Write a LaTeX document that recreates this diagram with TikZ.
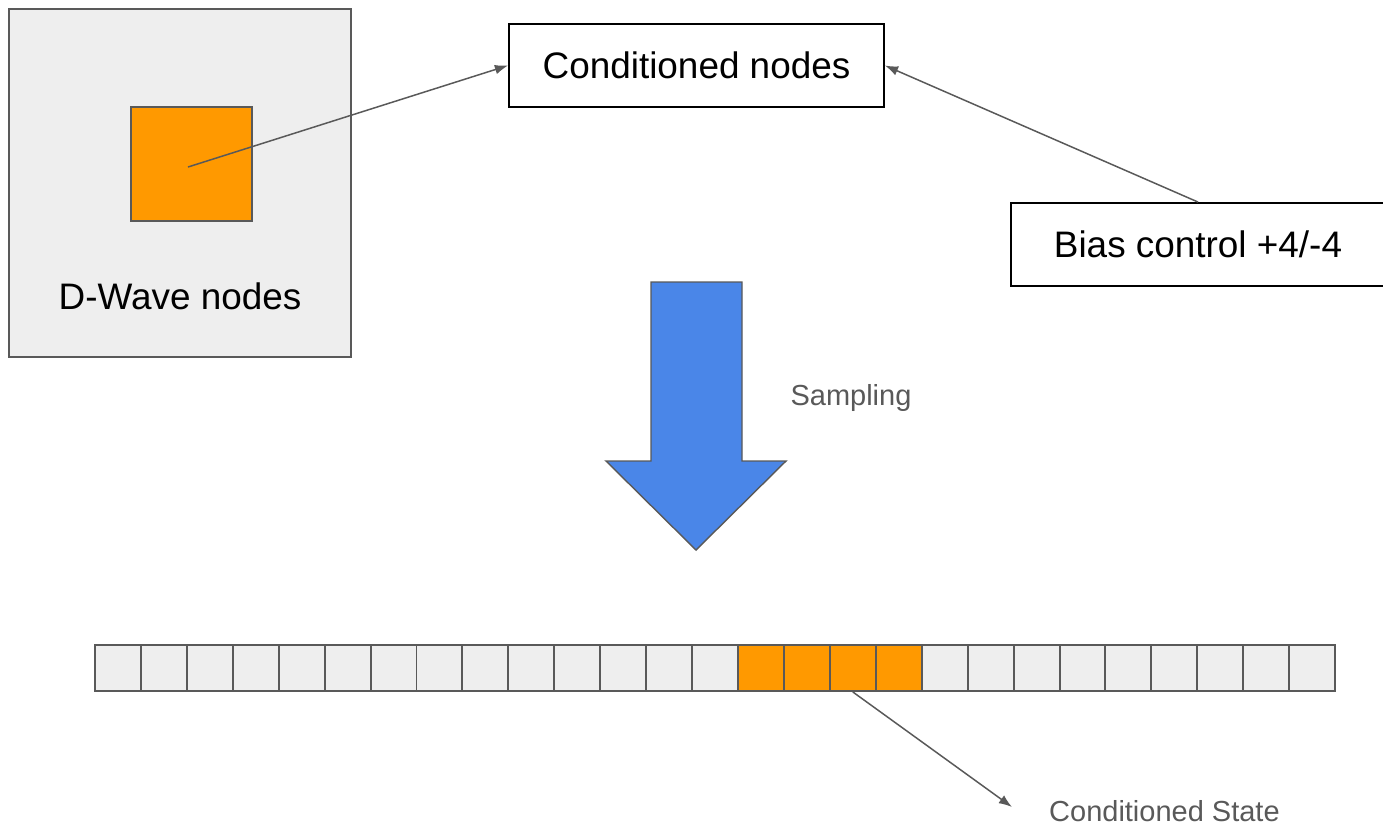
\documentclass[tikz,border=0pt]{standalone}
\usepackage{fontspec}
\setmainfont{Liberation Sans}
\usetikzlibrary{arrows.meta,positioning}
\definecolor{boxgray}{HTML}{EEEEEE}
\definecolor{linegray}{HTML}{595959}
\definecolor{qorange}{HTML}{FF9900}
\definecolor{qblue}{HTML}{4A86E8}
\begin{document}
\begin{tikzpicture}[x=0.02cm,y=-0.02cm,
    bigtext/.style={font=\fontsize{21}{25}\selectfont},
    smalltext/.style={font=\fontsize{16.5}{20}\selectfont,text=linegray},
    labelbox/.style={draw=black,line width=1.1pt,fill=white,minimum width=7.5cm,minimum height=1.66cm,inner sep=0pt,bigtext},
    cell/.style={draw=linegray,line width=1.1pt,fill=boxgray,minimum width=0.9186cm,minimum height=0.92cm,inner sep=0pt}]
      \clip (0,0) rectangle (1383,833);
      % left block
      \node (dwave)[draw=linegray,line width=1.1pt,fill=boxgray,minimum width=6.84cm,minimum height=6.96cm] at (180,183) {};
      \node (qsq)[draw=linegray,line width=1.1pt,fill=qorange,minimum width=2.42cm,minimum height=2.28cm] at (191.5,164) {};
      \coordinate (qstart) at (188,167);
      \node (dlabel)[bigtext] at (180,296) {D-Wave nodes};
      % label boxes
      \node (cond)[labelbox] at (696.5,65.5) {Conditioned nodes};
      \node (bias)[labelbox,minimum width=7.48cm] at (1198,244.5) {Bias control +4/-4};
      % sampling arrow
      \draw[draw=linegray,line width=0.8pt,fill=qblue] (651,282) -- (742,282) -- (742,461) -- (786,461) -- (696,550) -- (606,461) -- (651,461) -- cycle;
      \node (samp)[smalltext] at (851,398) {Sampling};
      % state row
      \foreach \i in {0,...,26}
        \node (c\i)[cell] at (95+45.93*\i+22.96,668) {};
      \foreach \i in {14,...,17}
        \node[cell,fill=qorange] at (c\i) {};
      \coordinate (stateend) at (1012,807);
      \node (state)[smalltext,anchor=west] at (1043,811) {Conditioned State};
      \begin{scope}[every edge/.style={draw=linegray,line width=0.85pt,-{Latex[length=7.5pt,width=5.5pt]}}]
        \path (qstart) edge (cond.west);
        \path (bias.north) edge (cond.east);
        \path (c16.south) edge (stateend);
      \end{scope}
\end{tikzpicture}
\end{document}
